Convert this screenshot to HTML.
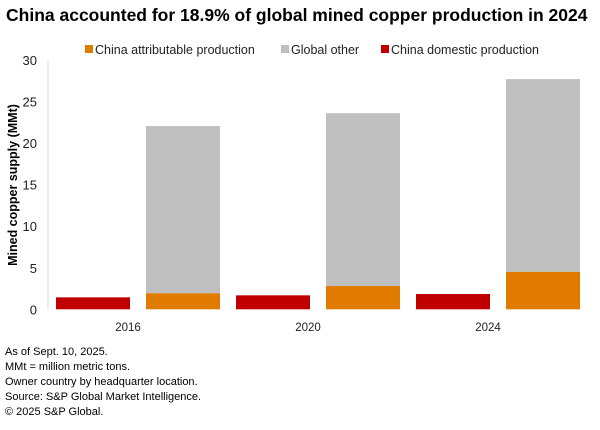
<!DOCTYPE html>
<html><head><meta charset="utf-8"><style>
body{margin:0;width:600px;height:430px;background:#fff;font-family:"Liberation Sans",sans-serif;overflow:hidden;position:relative}
#title{position:absolute;left:6px;top:5px;font-size:17.5px;font-weight:bold;color:#000;white-space:nowrap}
#notes{position:absolute;left:5px;top:345px;font-size:11px;line-height:15px;color:#000}
</style></head><body>
<div id="title">China accounted for 18.9% of global mined copper production in 2024</div>
<svg id="chart" width="600" height="340" style="position:absolute;left:0;top:0"></svg>
<div id="notes">As of Sept. 10, 2025.<br>MMt = million metric tons.<br>Owner country by headquarter location.<br>Source: S&amp;P Global Market Intelligence.<br>© 2025 S&amp;P Global.</div>
<script>
const categories=["2016","2020","2024"];
const domestic=[1.44,1.68,1.84];
const attributable=[1.93,2.8,4.5];
const globalTotal=[22.05,23.6,27.7];
const yTicks=[0,5,10,15,20,25,30];
const NS="http://www.w3.org/2000/svg";
const svg=document.getElementById('chart');
const y0=309.3,y30=60,left=48,catW=180;
function y(v){return y0-(v/30)*(y0-y30);}
function x(i){return left+i*catW;}
function mk(t,a,txt){const e=document.createElementNS(NS,t);for(const k in a)e.setAttribute(k,a[k]);if(txt!=null)e.textContent=txt;svg.appendChild(e);return e;}
let ax=mk('line',{x1:left,x2:left,y1:y30,y2:y0,stroke:'#d9d9d9','stroke-width':1});


yTicks.forEach(t=>{const e=mk('text',{x:37,y:y(t)+5,'text-anchor':'end','font-size':13,fill:'#222'},t);

});
const yt=mk('text',{transform:'translate(17,185) rotate(-90)','text-anchor':'middle','font-size':12.5,'font-weight':'bold',fill:'#000'},'Mined copper supply (MMt)');


categories.forEach((c,i)=>{
 const cx=x(i);
 let r=mk('rect',{x:cx+8,y:y(domestic[i]),width:74,height:y0-y(domestic[i]),fill:'#c00000'});
 
 
 let g=mk('rect',{x:cx+98,y:y(globalTotal[i]),width:74,height:y(attributable[i])-y(globalTotal[i]),fill:'#bfbfbf'});
 
 
 let o=mk('rect',{x:cx+98,y:y(attributable[i]),width:74,height:y0-y(attributable[i]),fill:'#e07b00'});
 
 
 let l=mk('text',{x:cx+80,y:331,'text-anchor':'middle','font-size':11.5,fill:'#222'},c);
 
 
});
const leg=[["China attributable production","#e07b00",85],["Global other","#bfbfbf",281],["China domestic production","#c00000",381]];
leg.forEach(([n,col,lx])=>{
 let s=mk('rect',{x:lx,y:45,width:8,height:8,fill:col});
 
 
 let t=mk('text',{x:lx+10,y:54,'font-size':12.5,fill:'#222'},n);
 
 
});
</script>
</body></html>
